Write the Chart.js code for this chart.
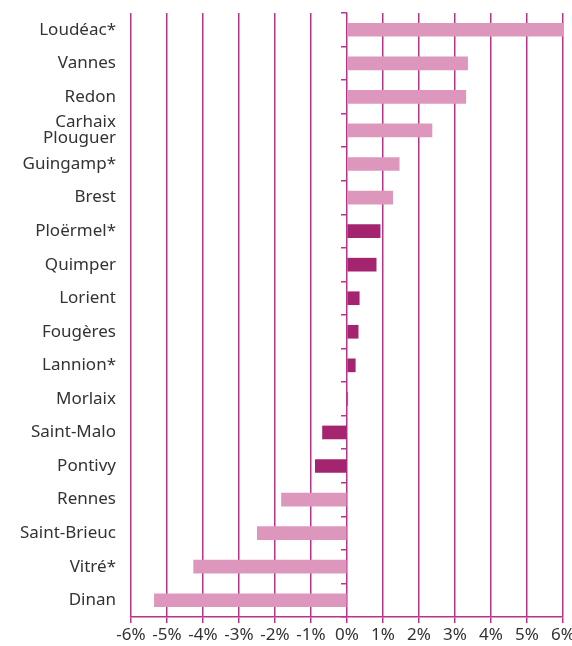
<!DOCTYPE html>
<html>
<head>
<meta charset="utf-8">
<script src="https://cdn.jsdelivr.net/npm/chart.js@4"></script>
<style>
  html, body { margin: 0; padding: 0; background: #fff; }
  #wrap { width: 572px; height: 646px; }
</style>
</head>
<body>
<div id="wrap"><canvas id="evol"></canvas></div>
<script>
// villes, de haut en bas
const villes = ['Loudéac*', 'Vannes', 'Redon', ['Carhaix', 'Plouguer'], 'Guingamp*', 'Brest',
  'Ploërmel*', 'Quimper', 'Lorient', 'Fougères', 'Lannion*', 'Morlaix',
  'Saint-Malo', 'Pontivy', 'Rennes', 'Saint-Brieuc', 'Vitré*', 'Dinan']

// évolution en %
const evolution = [6.0, 3.35, 3.3, 2.36, 1.45, 1.27,
  0.92, 0.81, 0.34, 0.31, 0.23, 0.02,
  -0.68, -0.88, -1.82, -2.49, -4.26, -5.35]

// 1 = barre foncée
const fonce = [0, 0, 0, 0, 0, 0,
  1, 1, 1, 1, 1, 1,
  1, 1, 0, 0, 0, 0]

const xTicks = [-6, -5, -4, -3, -2, -1, 0, 1, 2, 3, 4, 5, 6]

const rose = '#dd97bc'
const magenta = '#a5246f'
const trait = '#b8338a'

const noPad = s => { s.paddingLeft = 0; s.paddingRight = 0; s.paddingTop = 0; s.paddingBottom = 0 }

const config = {
  type: 'bar',
  data: {
    labels: villes,
    datasets: [
      {
        data: evolution,
        backgroundColor: fonce.map(f => f ? magenta : rose),
        barThickness: 13,
        yAxisID: 'y',
      },
    ],
  },
  options: {
    indexAxis: 'y',
    responsive: true,
    maintainAspectRatio: false,
    animation: false,
    layout: { padding: { top: 13, right: 9, left: 0, bottom: 0 } },
    plugins: {
      legend: { display: false },
      tooltip: { enabled: false },
    },
    scales: {
      x: {
        min: -6,
        max: 6,
        afterBuildTicks: s => { s.ticks = xTicks.map(v => ({ value: v })) },
        afterFit: s => { s.height = 29; noPad(s) },
        grid: { color: trait, lineWidth: 1.5, tickLength: 6 },
        border: { color: trait, width: 1.5 },
        ticks: {
          color: '#333',
          padding: 2,
          font: { family: 'Noto Sans', size: 17 },
          callback: v => v + '%',
        },
      },
      y: {
        position: 'left',
        afterFit: s => { s.width = 131; noPad(s) },
        grid: { display: false },
        border: { display: false },
        ticks: {
          color: '#333',
          autoSkip: false,
          padding: 7,
          font: { family: 'Noto Sans', size: 17, lineHeight: 0.95 },
        },
      },
      // petites graduations sur l'axe du zéro
      y2: {
        type: 'category',
        position: { x: 0 },
        afterFit: noPad,
        grid: { drawOnChartArea: false, offset: true, color: trait, lineWidth: 1.5, tickLength: 6 },
        border: { display: false },
        ticks: { display: false, autoSkip: false },
      },
    },
  },
}

const ctx = document.getElementById('evol')
window.myBar = new Chart(ctx, config)
</script>
</body>
</html>
